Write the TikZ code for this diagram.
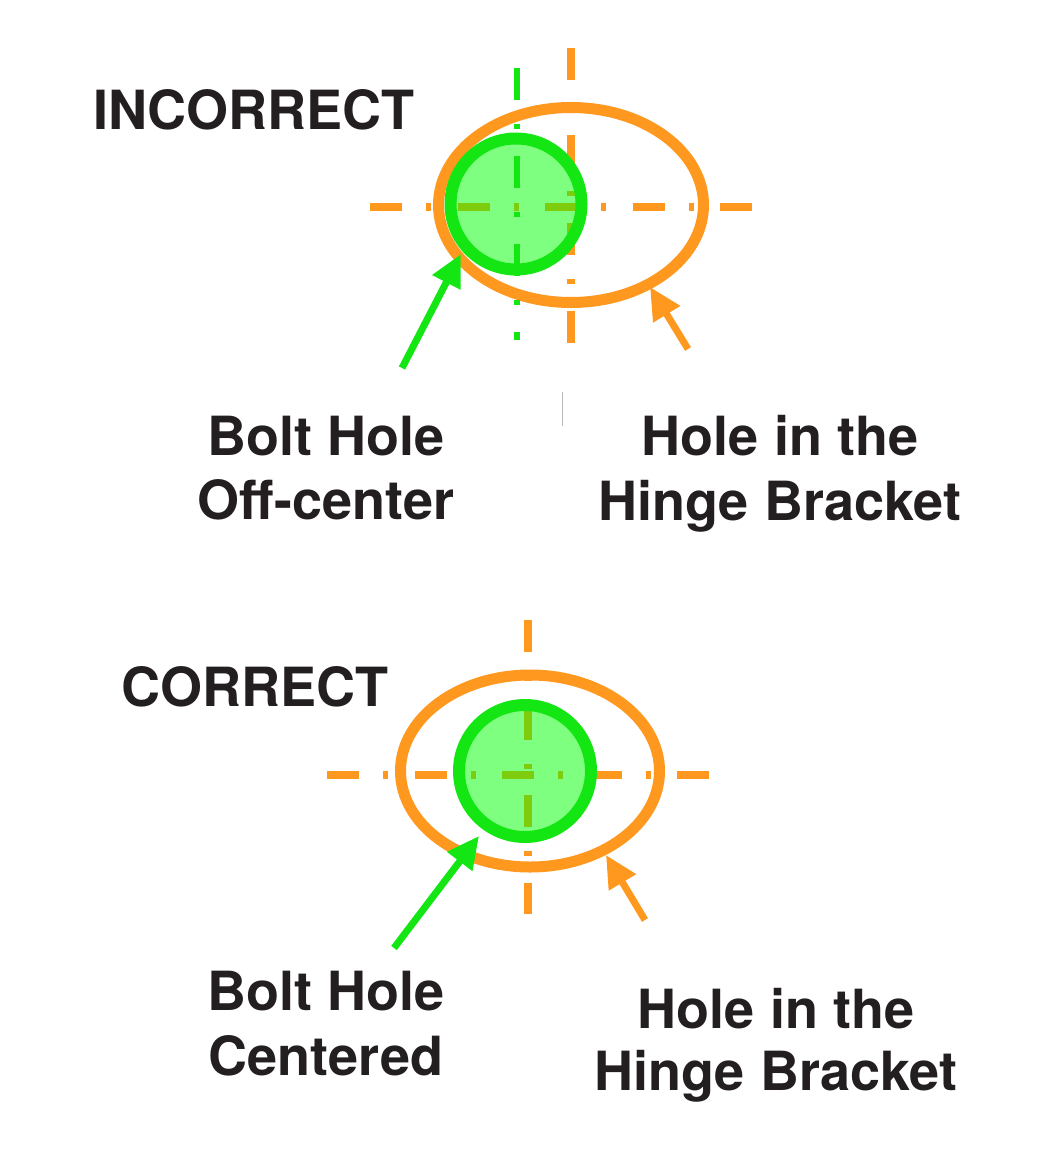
\documentclass[tikz,border=0pt]{standalone}
\usepackage{fontspec}
\setmainfont{TeX Gyre Heros}
\usetikzlibrary{arrows.meta}
\definecolor{orng}{HTML}{FF981E}
\definecolor{grn}{HTML}{14E614}
\definecolor{grnfill}{HTML}{00FF00}
\definecolor{txt}{HTML}{231F20}
\tikzset{
  lbl/.style={font=\fontsize{54}{64}\selectfont\bfseries, text=txt, anchor=base, inner sep=0pt},
  cross/.style={draw=orng, line width=7.5pt, dash pattern=on 32pt off 24pt on 5pt off 26.5pt},
  gcross/.style={draw=grn, line width=6pt, dash pattern=on 32pt off 24pt on 5pt off 27pt},
  bracket/.style={draw=orng, line width=11pt},
  bolt/.style={draw=grn, line width=12pt, fill=grnfill, fill opacity=0.5},
  garrow/.style={draw=grn, line width=7pt, -{Triangle[length=32pt,width=30pt]}},
  oarrow/.style={draw=orng, line width=7pt, -{Triangle[length=32pt,width=30pt]}},
}
\begin{document}
\begin{tikzpicture}[x=1pt,y=-1pt]
\useasboundingbox (0,0) rectangle (1055,1161);
\fill[white] (0,0) rectangle (1055,1161);

% ---------- INCORRECT ----------
\coordinate (h1a) at (370,207);
\coordinate (h1b) at (752,207);
\coordinate (v1a) at (571,48);
\coordinate (v1b) at (571,350);
\draw[cross] (h1a) -- (h1b);
\draw[cross] (v1a) -- (v1b);
\draw[bracket] (571,205) ellipse [x radius=132.5, y radius=97.5];
\draw[bolt] (516,204) circle [radius=65.5];
\coordinate (gv1a) at (517,68);
\coordinate (gv1b) at (517,340);
\draw[gcross] (gv1a) -- (gv1b);

\coordinate (ga1t) at (402,368);
\coordinate (ga1h) at (461,254);
\draw[garrow] (ga1t) -- (ga1h);
\coordinate (oa1t) at (688,349);
\coordinate (oa1h) at (650,287);
\draw[oarrow] (oa1t) -- (oa1h);

\coordinate (gl1) at (562,392);
\coordinate (gl2) at (562,426);
\draw[gray!55, line width=1pt] (gl1) -- (gl2);

\node[lbl] (inc) at (254,130) {INCORRECT};
\node[lbl] (bh1) at (326,455) {Bolt Hole};
\node[lbl] (oc1) at (326,519) {Off-center};
\node[lbl] (hi1) at (780,455) {Hole in the};
\node[lbl] (hb1) at (780,520) {Hinge Bracket};

% ---------- CORRECT ----------
\coordinate (h2a) at (327,775);
\coordinate (h2b) at (711,775);
\coordinate (v2a) at (528,620);
\coordinate (v2b) at (528,914);
\draw[cross] (h2a) -- (h2b);
\draw[cross] (v2a) -- (v2b);
\draw[bracket] (530,771) ellipse [x radius=129.5, y radius=96];
\draw[bolt] (525,771) circle [radius=66];

\coordinate (ga2t) at (394,948);
\coordinate (ga2h) at (479,836);
\draw[garrow] (ga2t) -- (ga2h);
\coordinate (oa2t) at (645,920);
\coordinate (oa2h) at (606,855);
\draw[oarrow] (oa2t) -- (oa2h);

\node[lbl] (cor) at (255,706) {CORRECT};
\node[lbl] (bh2) at (326,1010) {Bolt Hole};
\node[lbl] (ce2) at (326,1075) {Centered};
\node[lbl] (hi2) at (776,1028) {Hole in the};
\node[lbl] (hb2) at (776,1090) {Hinge Bracket};
\end{tikzpicture}
\end{document}
